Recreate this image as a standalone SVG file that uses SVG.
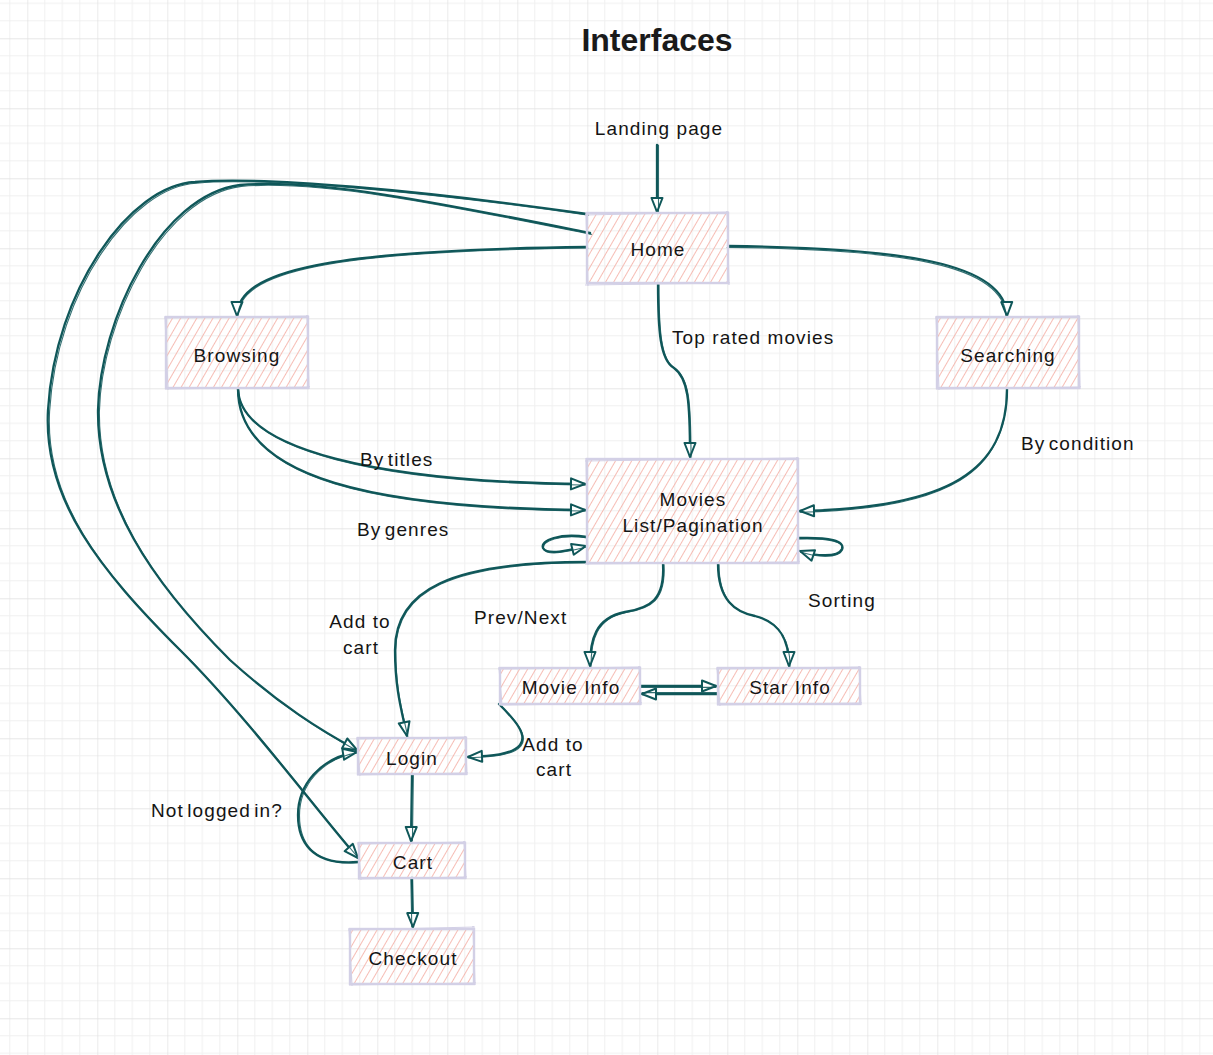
<svg xmlns="http://www.w3.org/2000/svg" xmlns:xlink="http://www.w3.org/1999/xlink" width="1213" height="1055" viewBox="0 0 1213 1055">
<style>
.t{font-family:"Liberation Sans",Arial,sans-serif;font-size:19px;letter-spacing:1.1px;fill:#141414}
.n{text-anchor:middle}
.ttl{font-family:"Liberation Sans",Arial,sans-serif;font-size:32px;font-weight:bold;fill:#1a1a1a;text-anchor:middle}
.e{fill:none;stroke:#0f5759;stroke-width:2.3;stroke-linecap:round;marker-end:url(#arr)}
.e2{fill:none;stroke:#0f5759;stroke-width:1.1;stroke-linecap:round;opacity:0.85}
.box{fill:url(#hatch);stroke:#d3d0e6;stroke-width:2.4}
.box2{fill:none;stroke:#d3d0e6;stroke-width:1.2}
</style>
<defs>
<pattern id="grid" patternUnits="userSpaceOnUse" x="27.3" y="38.3" width="70" height="70">
<path d="M17.5,0V70M35,0V70M52.5,0V70M0,17.5H70M0,35H70M0,52.5H70" stroke="#f0f0f0" stroke-width="1" fill="none"/>
<path d="M0,0V70M0,0H70" stroke="#e0e0e0" stroke-width="1.3" fill="none"/>
</pattern>
<pattern id="hatch" patternUnits="userSpaceOnUse" width="7" height="7" patternTransform="rotate(30)">
<line x1="0.5" y1="0" x2="0.5" y2="7" stroke="#f4ada2" stroke-width="1" opacity="0.8"/>
</pattern>
<marker id="arr" markerUnits="userSpaceOnUse" markerWidth="18" markerHeight="16" viewBox="0 0 18 16" refX="16" refY="8" orient="auto">
<path d="M2,2.5 L16,8 L2,13.5 Z" fill="#ffffff" stroke="#0f5759" stroke-width="2" stroke-linejoin="round"/>
</marker>
<path id="p1" d="M657,145 L657,212"/>
<path id="p2" d="M587,247 C 330,250 237,270 237,316"/>
<path id="p3" d="M728,246 C 900,248 1006,262 1007,316"/>
<path id="p4" d="M658,284 C 658,330 660,360 674,368 C 688,378 690,400 690,457"/>
<path id="p5" d="M238,389 C 240,450 380,482 585,484"/>
<path id="p6" d="M238,389 C 238,480 380,508 585,510"/>
<path id="p7" d="M1007,389 C 1007,470 950,508 800,511"/>
<path id="p8" d="M587,537 C 560,533 540,540 543,548 C 547,556 570,550 586,546"/>
<path id="p9" d="M798,538 C 830,537 845,541 842,549 C 838,558 815,556 800,551"/>
<path id="p10" d="M587,562 C 450,562 395,590 395,650 C 395,690 402,712 407,736"/>
<path id="p11" d="M663,564 C 665,600 650,608 625,612 C 595,618 590,640 590,666"/>
<path id="p12" d="M718,564 C 718,600 735,612 755,616 C 780,622 789,640 789,666"/>
<path id="p13" d="M641,686 L716,686"/>
<path id="p14" d="M718,694 L642,694"/>
<path id="p15" d="M499,704 C 515,720 528,735 520,745 C 512,755 490,756 468,757"/>
<path id="p16" d="M412,774 L411,841"/>
<path id="p17" d="M412,878 L413,927"/>
<path id="p18" d="M358,862 C 310,866 298,840 298,815 C 298,785 320,758 357,752"/>
<path id="p19" d="M587,214 C 420,190 260,176 195,182 C 130,185 55,290 48,410 C 43,500 100,570 180,650 C 250,720 320,815 358,858"/>
<path id="p20" d="M590,233 C 450,205 320,178 240,185 C 160,195 100,320 98,410 C 97,500 150,580 230,660 C 280,705 320,730 357,750"/>
</defs>
<rect width="1213" height="1055" fill="#ffffff"/>
<rect width="1213" height="1055" fill="url(#grid)"/>
<text class="ttl" x="657" y="51">Interfaces</text>
<g id="connectors">
<use xlink:href="#p1" class="e"/><use xlink:href="#p1" class="e2" transform="translate(1.5,0)"/>
<use xlink:href="#p2" class="e"/><use xlink:href="#p2" class="e2" transform="translate(0.8,1)"/>
<use xlink:href="#p3" class="e"/><use xlink:href="#p3" class="e2" transform="translate(-0.8,1.4)"/>
<use xlink:href="#p4" class="e"/><use xlink:href="#p4" class="e2" transform="translate(1,0.5)"/>
<use xlink:href="#p5" class="e"/><use xlink:href="#p5" class="e2" transform="translate(0.5,1)"/>
<use xlink:href="#p6" class="e"/><use xlink:href="#p6" class="e2" transform="translate(0.5,1)"/>
<use xlink:href="#p7" class="e"/><use xlink:href="#p7" class="e2" transform="translate(0,1.2)"/>
<use xlink:href="#p8" class="e"/><use xlink:href="#p8" class="e2" transform="translate(0.5,1)"/>
<use xlink:href="#p9" class="e"/><use xlink:href="#p9" class="e2" transform="translate(0.5,1)"/>
<use xlink:href="#p10" class="e"/><use xlink:href="#p10" class="e2" transform="translate(0.8,0.8)"/>
<use xlink:href="#p11" class="e"/><use xlink:href="#p11" class="e2" transform="translate(1,0.5)"/>
<use xlink:href="#p12" class="e"/><use xlink:href="#p12" class="e2" transform="translate(1,0.5)"/>
<use xlink:href="#p13" class="e"/><use xlink:href="#p13" class="e2" transform="translate(0,1.4)"/>
<use xlink:href="#p14" class="e"/><use xlink:href="#p14" class="e2" transform="translate(0,-1.4)"/>
<use xlink:href="#p15" class="e"/><use xlink:href="#p15" class="e2" transform="translate(1,0.8)"/>
<use xlink:href="#p16" class="e"/><use xlink:href="#p16" class="e2" transform="translate(1.4,0)"/>
<use xlink:href="#p17" class="e"/><use xlink:href="#p17" class="e2" transform="translate(-1.2,0)"/>
<use xlink:href="#p18" class="e"/><use xlink:href="#p18" class="e2" transform="translate(1.5,0.5)"/>
<use xlink:href="#p19" class="e"/><use xlink:href="#p19" class="e2" transform="translate(1.6,1.2)"/>
<use xlink:href="#p20" class="e"/><use xlink:href="#p20" class="e2" transform="translate(1.4,1.4)"/>
</g>
<g id="labels">
<text class="t n" x="659" y="135">Landing page</text>
<text class="t" x="672" y="344">Top rated movies</text>
<text class="t" x="1021" y="450" style="word-spacing:-3px">By condition</text>
<text class="t" x="360" y="466" style="word-spacing:-3px">By titles</text>
<text class="t" x="357" y="536" style="word-spacing:-3px">By genres</text>
<text class="t n" x="360" y="628">Add to</text>
<text class="t n" x="361" y="654">cart</text>
<text class="t" x="474" y="624">Prev/Next</text>
<text class="t" x="808" y="607">Sorting</text>
<text class="t n" x="553" y="751">Add to</text>
<text class="t n" x="554" y="776">cart</text>
<text class="t" x="151" y="817" style="word-spacing:-3px">Not logged in?</text>
</g>
<g id="node-home">
<rect class="box" x="587" y="213" width="141" height="70"/>
<path class="box2" d="M585,215 L729,212 M727,211 L729,285 M730,283 L585,285 M588,286 L586,212"/>
<text class="t n" x="658" y="256">Home</text>
</g>
<g id="node-browsing">
<rect class="box" x="166" y="317" width="142" height="71"/>
<path class="box2" d="M164,318 L309,316 M307,315 L309,389 M310,387 L165,389 M168,390 L165,316"/>
<text class="t n" x="237" y="362">Browsing</text>
</g>
<g id="node-searching">
<rect class="box" x="937" y="317" width="142" height="71"/>
<path class="box2" d="M935,318 L1080,316 M1078,315 L1080,389 M1081,387 L936,389 M939,390 L936,316"/>
<text class="t n" x="1008" y="362">Searching</text>
</g>
<g id="node-movies">
<rect class="box" x="587" y="459" width="211" height="104"/>
<path class="box2" d="M585,461 L799,458 M797,457 L799,564 M800,562 L585,564 M588,565 L586,458"/>
<text class="t n" x="693" y="506">Movies</text>
<text class="t n" x="693" y="532">List/Pagination</text>
</g>
<g id="node-movieinfo">
<rect class="box" x="500" y="668" width="140" height="36"/>
<path class="box2" d="M498,669 L641,667 M639,666 L641,705 M642,703 L499,705 M502,706 L499,667"/>
<text class="t n" x="571" y="694">Movie Info</text>
</g>
<g id="node-starinfo">
<rect class="box" x="718" y="668" width="142" height="36"/>
<path class="box2" d="M716,669 L861,667 M859,666 L861,705 M862,703 L717,705 M720,706 L717,667"/>
<text class="t n" x="790" y="694">Star Info</text>
</g>
<g id="node-login">
<rect class="box" x="358" y="738" width="108" height="36"/>
<path class="box2" d="M356,739 L467,737 M465,736 L467,775 M468,773 L357,775 M360,776 L357,737"/>
<text class="t n" x="412" y="765">Login</text>
</g>
<g id="node-cart">
<rect class="box" x="359" y="843" width="106" height="35"/>
<path class="box2" d="M357,844 L466,842 M464,841 L466,879 M467,877 L358,879 M361,880 L358,842"/>
<text class="t n" x="413" y="869">Cart</text>
</g>
<g id="node-checkout">
<rect class="box" x="350" y="929" width="124" height="55"/>
<path class="box2" d="M348,930 L475,927 M473,926 L475,985 M476,983 L349,985 M352,986 L349,928"/>
<text class="t n" x="413" y="965">Checkout</text>
</g>
</svg>
